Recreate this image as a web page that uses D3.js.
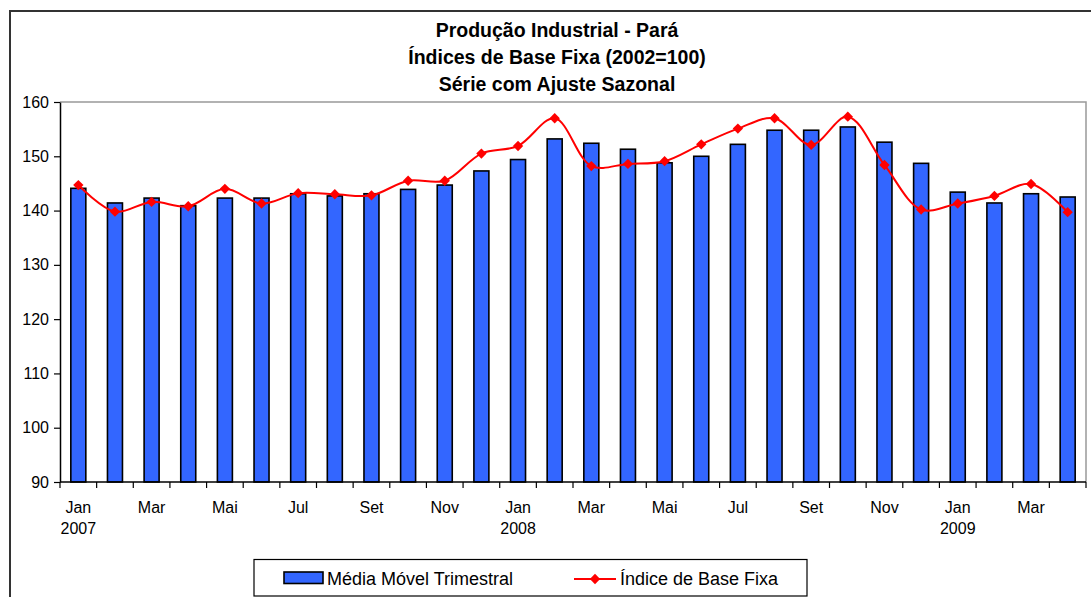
<!DOCTYPE html>
<html>
<head>
<meta charset="utf-8">
<script src="https://cdn.jsdelivr.net/npm/d3@7"></script>
<style>
  body { margin: 0; background: #fff; }
  text { font-family: Arial, "Liberation Sans", sans-serif; fill: #000; }
</style>
</head>
<body>
<div id="chart"></div>
<script>
// months Jan 2007 .. Abr 2009
var months = ["Jan","Fev","Mar","Abr","Mai","Jun","Jul","Ago","Set","Out","Nov","Dez",
              "Jan","Fev","Mar","Abr","Mai","Jun","Jul","Ago","Set","Out","Nov","Dez",
              "Jan","Fev","Mar","Abr"];
var years = {0: "2007", 12: "2008", 24: "2009"};

// Média Móvel Trimestral (bars)
var mediaMovel = [144.1, 141.4, 142.3, 140.9, 142.3, 142.3, 143.1, 142.7, 143.1, 143.9, 144.7, 147.3,
                  149.4, 153.2, 152.4, 151.3, 148.8, 150.0, 152.2, 154.8, 154.8, 155.4, 152.6, 148.7,
                  143.4, 141.4, 143.1, 142.5];
// Índice de Base Fixa (line)
var indice = [144.7, 139.8, 141.6, 140.8, 144.0, 141.3, 143.2, 143.0, 142.8, 145.5, 145.5, 150.5,
              151.9, 157.0, 148.2, 148.6, 149.1, 152.2, 155.1, 157.0, 152.1, 157.3, 148.4, 140.2,
              141.3, 142.7, 144.9, 139.7];
var yTicks = [90, 100, 110, 120, 130, 140, 150, 160];
var titleLines = ["Produção Industrial - Pará", "Índices de Base Fixa (2002=100)", "Série com Ajuste Sazonal"];

var W = 1091, H = 597;
var margin = {left: 60, right: 1086, top: 102, bottom: 482};

var svg = d3.select("#chart").append("svg")
    .attr("width", W)
    .attr("height", H);

// outer frame
svg.append("rect")
    .attr("x", 10).attr("y", 11)
    .attr("width", W + 10).attr("height", H + 10)
    .attr("fill", "none")
    .attr("stroke", "#333")
    .attr("stroke-width", 2);

// title
svg.append("g").selectAll("text")
    .data(titleLines)
  .enter().append("text")
    .attr("x", 557)
    .attr("y", function(d, i){ return 36.5 + i * 27.3; })
    .attr("text-anchor", "middle")
    .style("font-weight", "bold")
    .style("font-size", "19.5px")
    .text(function(d){ return d; });

var x = d3.scaleBand()
    .domain(d3.range(months.length))
    .range([margin.left, margin.right])
    .padding(0);

var y = d3.scaleLinear()
    .domain([90, 160])
    .range([margin.bottom, margin.top]);

// plot border (top / right, gray)
svg.append("path")
    .attr("d", "M" + margin.left + "," + margin.top + "H" + margin.right + "V" + margin.bottom)
    .attr("fill", "none")
    .attr("stroke", "#999")
    .attr("stroke-width", 1.5);

// bars
var barW = 15;
svg.append("g").selectAll("rect")
    .data(mediaMovel)
  .enter().append("rect")
    .attr("x", function(d, i){ return x(i) + x.bandwidth() / 2 - barW / 2; })
    .attr("y", function(d){ return y(d); })
    .attr("width", barW)
    .attr("height", function(d){ return y(90) - y(d); })
    .attr("fill", "#3366FF")
    .attr("stroke", "#000")
    .attr("stroke-width", 1.6);

// y axis
var yAxis = svg.append("g")
    .attr("transform", "translate(" + margin.left + ",0)")
    .call(d3.axisLeft(y).tickValues(yTicks).tickSize(6).tickPadding(5).tickSizeOuter(0));
yAxis.select(".domain").attr("stroke", "#000").attr("stroke-width", 1.5);
yAxis.selectAll(".tick line").attr("stroke", "#000").attr("stroke-width", 1.2);
yAxis.selectAll(".tick text").style("font-size", "16px").style("font-family", "Arial, 'Liberation Sans', sans-serif");

// x axis line and ticks at band edges
svg.append("line")
    .attr("x1", margin.left).attr("x2", margin.right)
    .attr("y1", margin.bottom).attr("y2", margin.bottom)
    .attr("stroke", "#000").attr("stroke-width", 1.5);
svg.append("g").selectAll("line")
    .data(d3.range(months.length + 1))
  .enter().append("line")
    .attr("x1", function(i){ return i < months.length ? x(i) : margin.right; })
    .attr("x2", function(i){ return i < months.length ? x(i) : margin.right; })
    .attr("y1", margin.bottom).attr("y2", margin.bottom + 6)
    .attr("stroke", "#000").attr("stroke-width", 1.2);

// x labels (every other month)
var xl = svg.append("g");
months.forEach(function(m, i){
  if (i % 2 !== 0) return;
  var cx = x(i) + x.bandwidth() / 2;
  xl.append("text")
    .attr("x", cx).attr("y", 513)
    .attr("text-anchor", "middle")
    .style("font-size", "16px")
    .text(m);
  if (years[i]) {
    xl.append("text")
      .attr("x", cx).attr("y", 534)
      .attr("text-anchor", "middle")
      .style("font-size", "16px")
      .text(years[i]);
  }
});

// line
var line = d3.line()
    .x(function(d, i){ return x(i) + x.bandwidth() / 2; })
    .y(function(d){ return y(d); })
    .curve(d3.curveCatmullRom.alpha(0.5));

svg.append("path")
    .datum(indice)
    .attr("d", line)
    .attr("fill", "none")
    .attr("stroke", "#FF0000")
    .attr("stroke-width", 2);

var diamond = d3.symbol().type(d3.symbolDiamond2).size(68);
svg.append("g").selectAll("path")
    .data(indice)
  .enter().append("path")
    .attr("d", diamond)
    .attr("transform", function(d, i){ return "translate(" + (x(i) + x.bandwidth() / 2) + "," + y(d) + ")"; })
    .attr("fill", "#FF0000");

// legend
var lg = svg.append("g");
lg.append("rect")
    .attr("x", 254).attr("y", 559.5)
    .attr("width", 553).attr("height", 36.5)
    .attr("fill", "#fff")
    .attr("stroke", "#000")
    .attr("stroke-width", 1.2);
lg.append("rect")
    .attr("x", 284).attr("y", 572)
    .attr("width", 39).attr("height", 11.5)
    .attr("fill", "#3366FF")
    .attr("stroke", "#000")
    .attr("stroke-width", 1.6);
lg.append("text")
    .attr("x", 327).attr("y", 585)
    .style("font-size", "18px")
    .text("Média Móvel Trimestral");
lg.append("line")
    .attr("x1", 574).attr("x2", 616)
    .attr("y1", 579).attr("y2", 579)
    .attr("stroke", "#FF0000").attr("stroke-width", 2);
lg.append("path")
    .attr("d", diamond)
    .attr("transform", "translate(595,579)")
    .attr("fill", "#FF0000");
lg.append("text")
    .attr("x", 620).attr("y", 585)
    .style("font-size", "18px")
    .text("Índice de Base Fixa");
</script>
</body>
</html>
